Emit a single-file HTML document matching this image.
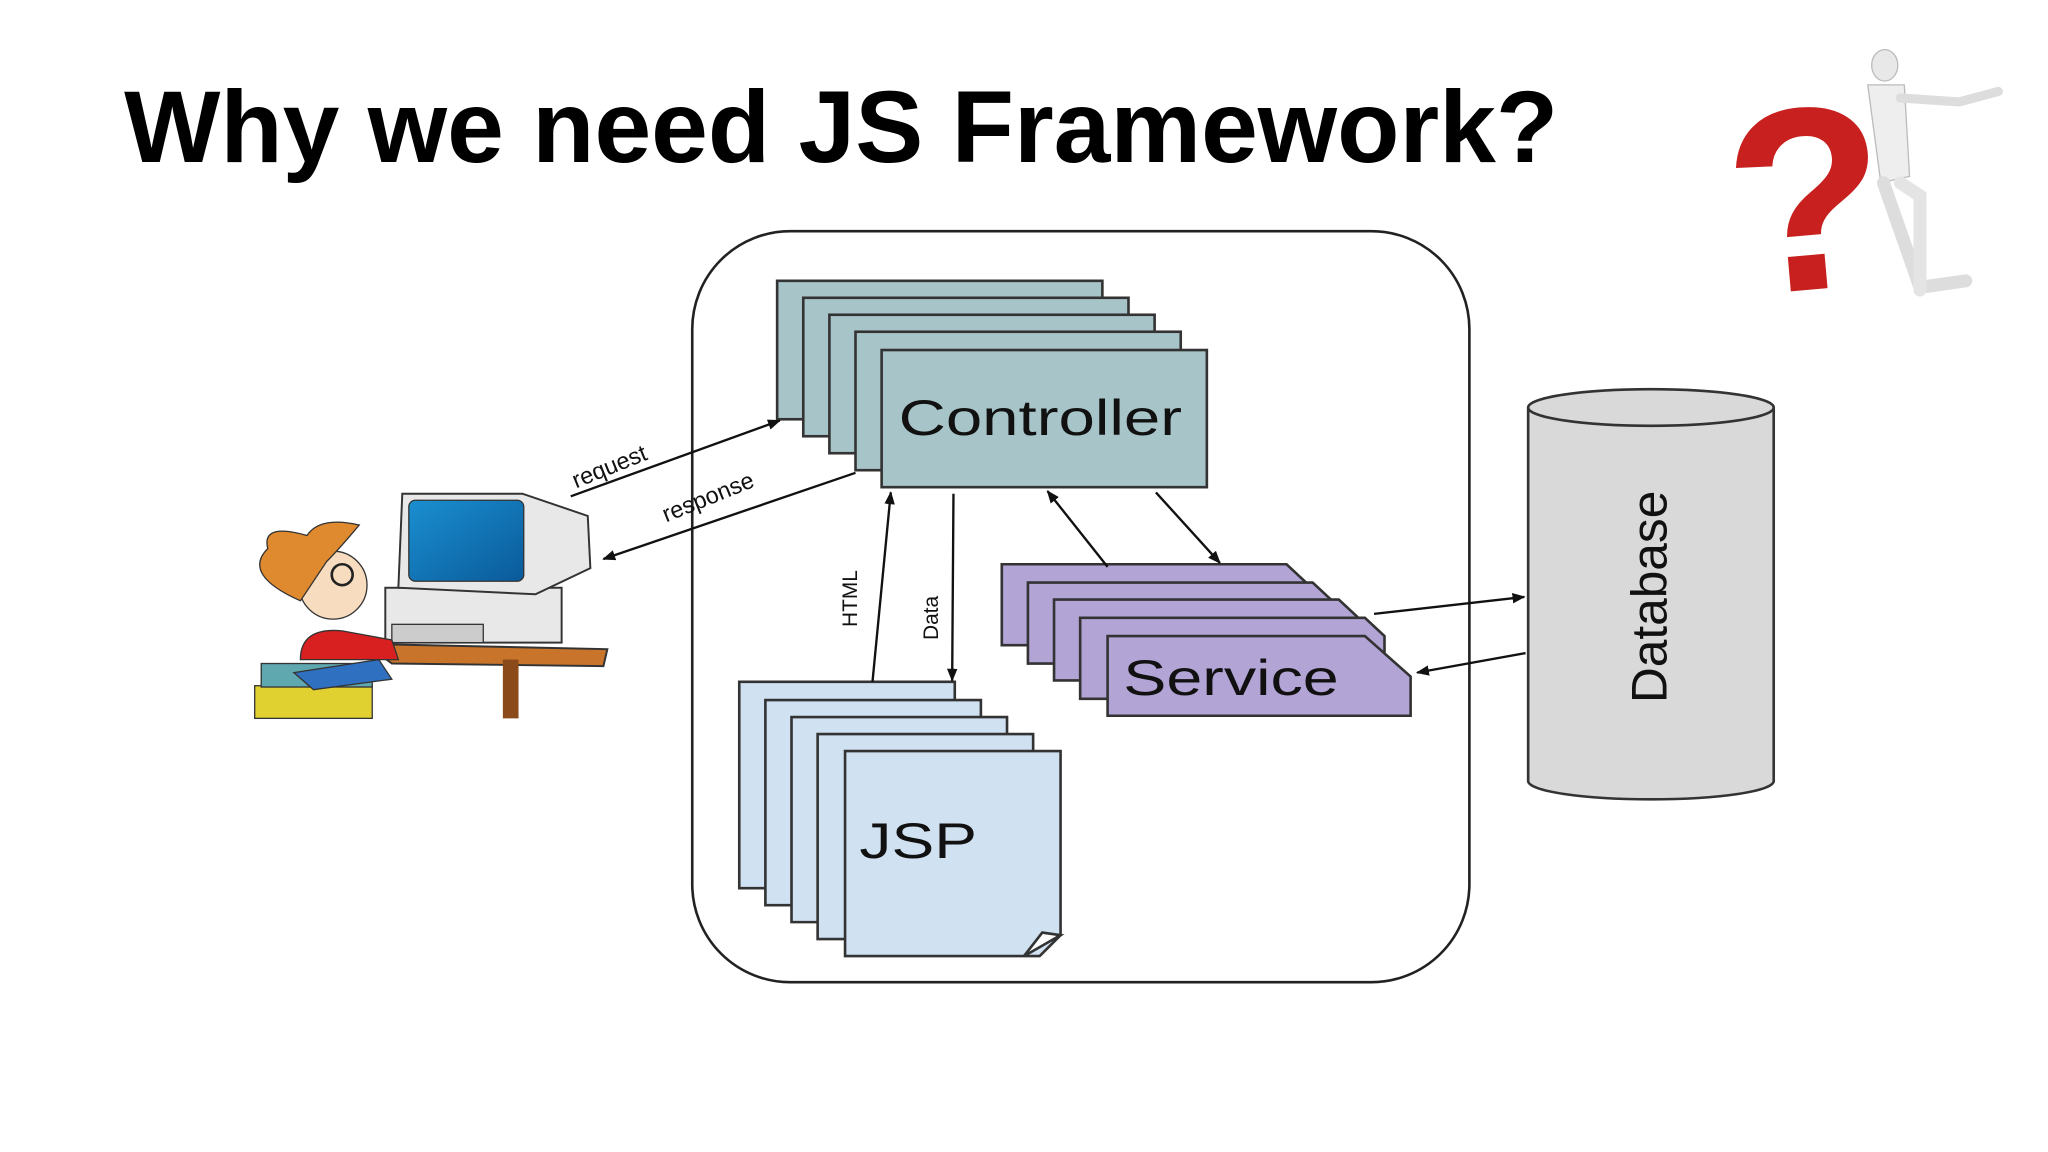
<!DOCTYPE html>
<html><head><meta charset="utf-8"><style>
html,body{margin:0;padding:0;background:#fff;}
svg{display:block;}
text{font-family:"Liberation Sans",sans-serif;}
</style></head><body>
<svg width="2048" height="1152" viewBox="0 0 1568 882" xmlns="http://www.w3.org/2000/svg">
<defs>
<marker id="ah" markerWidth="10" markerHeight="8" refX="9" refY="4" orient="auto" markerUnits="userSpaceOnUse">
<path d="M0,0 L10,4 L0,8 z" fill="#111"/></marker>
<linearGradient id="scr" x1="0" y1="0" x2="1" y2="1"><stop offset="0" stop-color="#1a8fd0"/><stop offset="1" stop-color="#0a5a9a"/></linearGradient>
</defs>
<rect width="1568" height="882" fill="#fff"/>
<text x="95" y="124" font-size="78" font-weight="bold" fill="#000" textLength="1098" lengthAdjust="spacingAndGlyphs">Why we need JS Framework?</text>

<!-- question mark art -->
<g>
<text x="1322" y="222" font-family="Liberation Sans,sans-serif" font-size="200" font-weight="bold" fill="#c8201e" transform="rotate(-5 1380 150)">?</text>
<ellipse cx="1443" cy="50" rx="10" ry="12" fill="#e8e8e8" stroke="#bbb"/>
<path d="M1430,65 L1458,65 L1462,135 L1440,140 Z" fill="#eee" stroke="#bbb"/>
<path d="M1455,75 L1500,78 L1530,70" stroke="#ddd" stroke-width="7" fill="none" stroke-linecap="round"/>
<path d="M1442,140 L1470,220 L1505,215" stroke="#ddd" stroke-width="10" fill="none" stroke-linecap="round"/>
<path d="M1455,140 L1470,150 L1470,222" stroke="#e4e4e4" stroke-width="10" fill="none" stroke-linecap="round"/>
</g>

<!-- boy at computer -->
<g>
<path d="M280,493 L465,497 L462,510 L300,508 Z" fill="#c8742a" stroke="#333" stroke-width="1.5"/>
<rect x="385" y="505" width="12" height="45" fill="#8a4a1a"/>
<rect x="295" y="450" width="135" height="42" fill="#e8e8e8" stroke="#333" stroke-width="1.5"/>
<path d="M308,378 L400,378 L450,395 L452,435 L410,455 L305,450 Z" fill="#e8e8e8" stroke="#333" stroke-width="1.5"/>
<rect x="313" y="383" width="88" height="62" rx="5" fill="url(#scr)" stroke="#333"/>
<rect x="300" y="478" width="70" height="14" fill="#ccc" stroke="#333"/>
<rect x="195" y="525" width="90" height="25" fill="#e0d030" stroke="#333"/>
<rect x="200" y="508" width="85" height="18" fill="#60a8b0" stroke="#333"/>
<path d="M230,505 Q230,480 262,483 L300,490 L305,505 Z" fill="#d82020" stroke="#333"/>
<path d="M225,515 L290,505 L300,520 L240,528 Z" fill="#3070c0" stroke="#333"/>
<circle cx="255" cy="448" r="26" fill="#f8dcc0" stroke="#333"/>
<path d="M230,460 Q185,440 205,420 Q200,400 235,410 Q245,395 275,402 Q260,420 250,430 Z" fill="#e08a30" stroke="#333"/>
<circle cx="262" cy="440" r="8" fill="none" stroke="#222" stroke-width="2"/>
</g>

<!-- container -->
<rect x="530" y="177" width="595" height="575" rx="75" fill="none" stroke="#222" stroke-width="2"/>

<!-- Controller stack -->
<g fill="#a7c4c8" stroke="#333" stroke-width="2">
<rect x="595" y="215" width="249" height="106"/>
<rect x="615" y="228" width="249" height="106"/>
<rect x="635" y="241" width="249" height="106"/>
<rect x="655" y="254" width="249" height="106"/>
<rect x="675" y="268" width="249" height="105"/>
</g>
<text x="688" y="333" font-size="38" fill="#111" textLength="217" lengthAdjust="spacingAndGlyphs">Controller</text>

<!-- Service stack -->
<g fill="#b3a4d6" stroke="#333" stroke-width="2">
<path d="M767,432 L985,432 L1000,446 L1000,494 L767,494 Z"/>
<path d="M787,446 L1005,446 L1020,460 L1020,508 L787,508 Z"/>
<path d="M807,459 L1025,459 L1040,473 L1040,521 L807,521 Z"/>
<path d="M827,473 L1045,473 L1060,487 L1060,535 L827,535 Z"/>
<path d="M848,487 L1045,487 L1080,518 L1080,548 L848,548 Z"/>
</g>
<text x="860" y="532" font-size="38" fill="#111" textLength="165" lengthAdjust="spacingAndGlyphs">Service</text>

<!-- JSP stack -->
<g fill="#d0e1f2" stroke="#333" stroke-width="2">
<path d="M566,522 L731,522 L731,680 L566,680 Z"/>
<path d="M586,536 L751,536 L751,693 L586,693 Z"/>
<path d="M606,549 L771,549 L771,706 L606,706 Z"/>
<path d="M626,562 L791,562 L791,719 L626,719 Z"/>
<path d="M647,575 L812,575 L812,716 L796,732 L647,732 Z"/>
<path d="M784,732 L812,716 L798,714 Z" fill="#fff"/>
</g>
<text x="658" y="657" font-size="38" fill="#111" textLength="90" lengthAdjust="spacingAndGlyphs">JSP</text>

<!-- Database -->
<path d="M1170,312 L1170,598 A94,14 0 0 0 1358,598 L1358,312" fill="#d9d9d9" stroke="#333" stroke-width="2"/>
<ellipse cx="1264" cy="312" rx="94" ry="14" fill="#d9d9d9" stroke="#333" stroke-width="2"/>
<text transform="translate(1276,457) rotate(-90)" text-anchor="middle" font-size="38" fill="#111">Database</text>

<!-- arrows -->
<g stroke="#111" stroke-width="1.8" fill="none" marker-end="url(#ah)">
<line x1="437" y1="380" x2="597" y2="322"/>
<line x1="655" y1="362" x2="462" y2="428"/>
<line x1="668" y1="522" x2="682" y2="377"/>
<line x1="730" y1="378" x2="729" y2="521"/>
<line x1="848" y1="434" x2="802" y2="376"/>
<line x1="885" y1="377" x2="934" y2="431"/>
<line x1="1052" y1="470" x2="1167" y2="457"/>
<line x1="1168" y1="500" x2="1085" y2="515"/>
</g>
<text transform="translate(441,374) rotate(-22)" font-size="18" fill="#111">request</text>
<text transform="translate(510,400) rotate(-22)" font-size="18" fill="#111">response</text>
<text transform="translate(656,480) rotate(-90)" font-size="16" fill="#111">HTML</text>
<text transform="translate(718,490) rotate(-90)" font-size="16" fill="#111">Data</text>
</svg>
</body></html>
